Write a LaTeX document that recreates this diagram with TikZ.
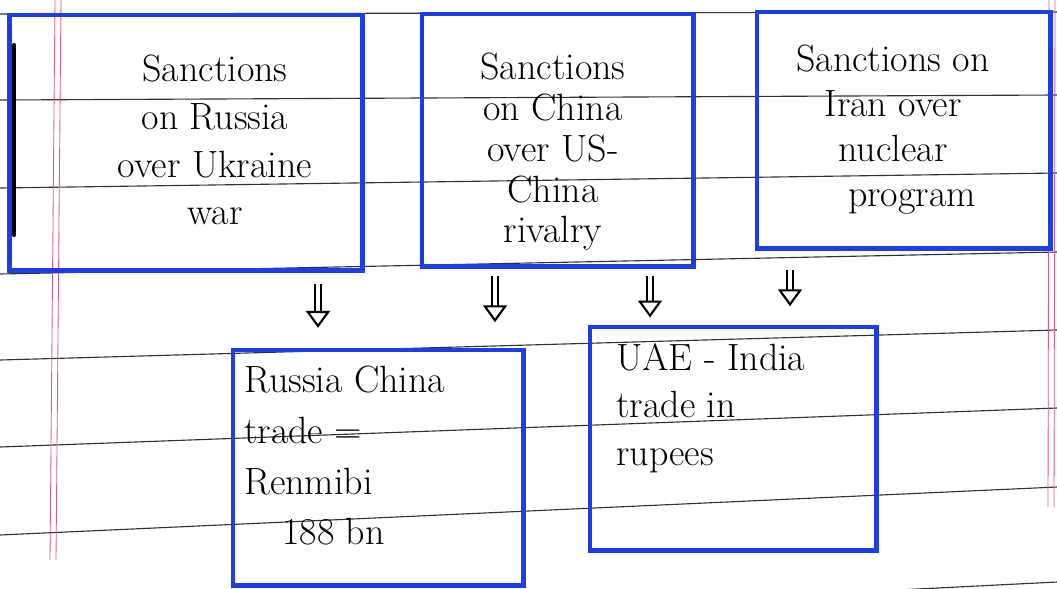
\documentclass[tikz,border=0pt]{standalone}
\usetikzlibrary{arrows.meta}
\definecolor{penblue}{RGB}{28,62,228}
\definecolor{marginred}{RGB}{214,92,140}
\definecolor{ruled}{RGB}{50,50,50}
\tikzset{
	box/.style={draw=penblue, line width=3.5pt, inner sep=0pt},
	txt/.style={font=\fontsize{27}{34}\selectfont, inner sep=0pt},
	dbl/.style={double, double distance=3pt, line width=1.5pt,
		-{Triangle[open, length=12pt, width=17pt]}},
	rule/.style={ruled, line width=0.8pt},
	margin/.style={marginred, line width=0.6pt}
}

\begin{document}
\begin{tikzpicture}[x=0.025cm, y=-0.025cm]
	\useasboundingbox (0,0) rectangle (1057,588);

	% Ruled paper
	\foreach \l/\r in {14/12, 100/95, 188/173, 274/252, 360/330, 447/408, 535/487, 635/582}
		\draw[rule] (0,\l) -- (1057,\r);
	\draw[margin] (55,0) -- (50,560);
	\draw[margin] (61,0) -- (56,560);
	\draw[margin] (1049,0) -- (1048,507);
	\draw[margin] (1055,0) -- (1054,507);
	\draw[line width=3pt, line cap=round] (14,45) -- (14,235);

	% Top row
	\node[box, minimum width=8.8cm, minimum height=6.375cm] (rus) at (186,142.5) {};
	\node[box, minimum width=6.775cm, minimum height=6.3cm] (chn) at (557.5,140) {};
	\node[box, minimum width=7.325cm, minimum height=5.9cm] (irn) at (903.5,130) {};
	\node[txt, align=center] (rustxt) at (215,140) {Sanctions\\on Russia\\over Ukraine\\war};
	\node[txt, align=center, font=\fontsize{27}{29}\selectfont] (chntxt) at (553,152) {Sanctions\\on China\\over US-\\China\\rivalry};
	\node[txt, align=center, font=\fontsize{27}{32}\selectfont] (irntxt) at (893,130) {Sanctions on\\Iran over\\nuclear\\\quad program};

	% Bottom row
	\node[box, minimum width=7.25cm, minimum height=5.875cm] (rc) at (378,467.5) {};
	\node[box, minimum width=7.15cm, minimum height=5.575cm] (uae) at (733,438.5) {};
	\node[txt, align=left, anchor=north west, font=\fontsize{27}{36}\selectfont] (rctxt) at (244,366) {Russia China\\trade =\\Renmibi\\\quad 188 bn};
	\node[txt, align=left, anchor=north west] (uaetxt) at (616,343) {UAE - India\\trade in\\rupees};

	% Arrows
	\coordinate (a1) at (318,0);
	\coordinate (a2) at (495,0);
	\coordinate (a3) at (650,0);
	\coordinate (a4) at (790,0);
	\draw[dbl, shorten <=8pt, shorten >=14pt] (rus.south -| a1) -- (rc.north -| a1);
	\draw[dbl, shorten <=5pt, shorten >=18pt] (chn.south -| a2) -- (rc.north -| a2);
	\draw[dbl, shorten <=5pt, shorten >=5pt] (chn.south -| a3) -- (uae.north -| a3);
	\draw[dbl, shorten <=14pt, shorten >=13pt] (irn.south -| a4) -- (uae.north -| a4);

\end{tikzpicture}
\end{document}
